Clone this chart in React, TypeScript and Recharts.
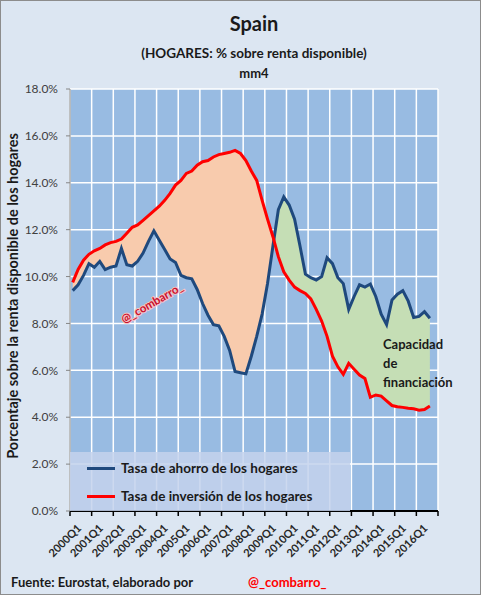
import React from 'react';
import { ComposedChart, Area, Line, XAxis, YAxis, CartesianGrid, Legend } from 'recharts';

// one label every 4 quarters (2000Q1 .. 2016Q1)
const yearLabels = [
  '2000Q1', '2001Q1', '2002Q1', '2003Q1', '2004Q1', '2005Q1', '2006Q1', '2007Q1', '2008Q1',
  '2009Q1', '2010Q1', '2011Q1', '2012Q1', '2013Q1', '2014Q1', '2015Q1', '2016Q1',
];

// Tasa de ahorro de los hogares (% renta disponible, mm4), 2000Q1 .. 2016Q3
const ahorro = [
  9.4, 9.65, 10.05, 10.55, 10.4, 10.65, 10.3, 10.4, 10.45, 11.2, 10.5, 10.45,
  10.65, 11.0, 11.5, 11.95, 11.55, 11.15, 10.75, 10.6, 10.05, 9.95, 9.9, 9.45,
  8.85, 8.35, 7.95, 7.9, 7.45, 6.85, 5.95, 5.9, 5.85, 6.6, 7.45, 8.4,
  9.7, 11.3, 12.85, 13.4, 13.05, 12.45, 11.3, 10.1, 9.95, 9.85, 10.0, 10.8,
  10.55, 9.95, 9.7, 8.6, 9.15, 9.65, 9.55, 9.68, 9.15, 8.4, 7.95, 9.0,
  9.25, 9.4, 8.95, 8.25, 8.3, 8.5, 8.22,
];

// Tasa de inversión de los hogares
const inversion = [
  9.75, 10.3, 10.7, 10.95, 11.1, 11.2, 11.35, 11.45, 11.5, 11.6, 11.85, 12.1,
  12.2, 12.4, 12.6, 12.8, 13.0, 13.25, 13.55, 13.9, 14.1, 14.4, 14.5, 14.75,
  14.9, 14.95, 15.1, 15.2, 15.25, 15.3, 15.38, 15.25, 14.95, 14.5, 14.1, 13.25,
  12.45, 11.7, 10.85, 10.2, 9.85, 9.55, 9.4, 9.28, 9.05, 8.6, 8.1, 7.45,
  6.6, 6.15, 5.83, 6.3, 6.05, 5.8, 5.65, 4.85, 4.95, 4.9, 4.7, 4.5,
  4.45, 4.42, 4.38, 4.36, 4.3, 4.33, 4.48,
];

const yTicks = [0, 2, 4, 6, 8, 10, 12, 14, 16, 18];
const xTicks = yearLabels.map((_, i) => i * 4).concat([68]);

const data = ahorro.map((s, i) => {
  const inv = inversion[i];
  return {
    x: i + 0.5,
    ahorro: s,
    inversion: inv,
    base: Math.min(s, inv),
    necesidad: Math.max(0, inv - s),
    capacidad: Math.max(0, s - inv),
  };
});

const FONT = 'Lato, "Open Sans", sans-serif';

const XTick = (props: any) => {
  const { x, y, payload } = props;
  const label = yearLabels[payload.value / 4];
  if (!label) return null;
  const ax = x + 12;
  const ay = y + 11;
  return (
    <text x={ax} y={ay} transform={`rotate(-45, ${ax}, ${ay})`} textAnchor="end"
      fontSize={11} fontWeight={700} fill="#262626" fontFamily={FONT}>
      {label}
    </text>
  );
};

const LegendBox = (props: any) => {
  const items = (props.payload || []).filter((p: any) => p.type !== 'none');
  return (
    <div style={{ width: 280, height: 59, background: 'rgba(196,210,236,0.85)', boxSizing: 'border-box', paddingTop: 2 }}>
      {items.map((p: any) => (
        <div key={p.value} style={{ display: 'flex', alignItems: 'center', height: 28 }}>
          <span style={{ display: 'inline-block', width: 28, height: 3, background: p.color, marginLeft: 17, marginRight: 6 }} />
          <span style={{ fontFamily: FONT, fontWeight: 700, fontSize: 13.5, color: '#1a1a1a' }}>{p.value}</span>
        </div>
      ))}
    </div>
  );
};

export default function App() {
  return (
    <div style={{ position: 'absolute', left: 0, top: 0, width: 481, height: 595, background: '#DCE6F2', border: '1px solid #8c8c8c', boxSizing: 'border-box', overflow: 'hidden' }}>
      <div style={{ position: 'absolute', left: -1, top: -1 }}>
        <ComposedChart width={481} height={595} data={data} margin={{ top: 89, right: 43, bottom: 24, left: 10 }}>
          <CartesianGrid stroke="#ffffff" strokeWidth={1.5} fill="#98BBE2" fillOpacity={1} />
          <XAxis type="number" dataKey="x" domain={[0, 68]} ticks={xTicks} interval={0} height={60}
            axisLine={{ stroke: '#000', strokeWidth: 2 }} tickLine={{ stroke: '#000', strokeWidth: 1.5 }} tickSize={5}
            tick={<XTick />} />
          <YAxis type="number" domain={[0, 18]} ticks={yTicks} width={60} tickSize={4} tickMargin={8}
            axisLine={{ stroke: '#868686' }} tickLine={{ stroke: '#868686' }}
            tickFormatter={(v: number) => v.toFixed(1) + '%'}
            tick={{ fontSize: 12, fill: '#404040', fontFamily: FONT }} />
          <Legend layout="horizontal" verticalAlign="middle" align="center" content={<LegendBox />}
            wrapperStyle={{ position: 'absolute', left: 70, top: 452, width: 280, height: 59 }} />
          <Area type="linear" dataKey="base" stackId="s" stroke="none" fill="none" legendType="none" isAnimationActive={false} />
          <Area type="linear" dataKey="necesidad" stackId="s" stroke="none" fill="#F8CBAD" fillOpacity={1} legendType="none" isAnimationActive={false} />
          <Area type="linear" dataKey="capacidad" stackId="s" stroke="none" fill="#C5DEB5" fillOpacity={1} legendType="none" isAnimationActive={false} />
          <Line type="linear" dataKey="ahorro" name="Tasa de ahorro de los hogares" stroke="#1F497D" strokeWidth={3} dot={false} isAnimationActive={false} />
          <Line type="linear" dataKey="inversion" name="Tasa de inversión de los hogares" stroke="#FF0000" strokeWidth={3} dot={false} isAnimationActive={false} />
        </ComposedChart>
      </div>
      <svg width={481} height={595} style={{ position: 'absolute', left: -1, top: -1, pointerEvents: 'none' }} fontFamily={FONT}>
        <text x={254} y={31} textAnchor="middle" fontSize={20} fontWeight={700} fill="#1a1a1a">Spain</text>
        <text x={254} y={58} textAnchor="middle" fontSize={13.5} fontWeight={700} fill="#1a1a1a">(HOGARES: % sobre renta disponible)</text>
        <text x={254} y={78} textAnchor="middle" fontSize={13} fontWeight={700} fill="#1a1a1a">mm4</text>
        <text x={18} y={296} transform="rotate(-90, 18, 296)" textAnchor="middle" fontSize={14.5} fontWeight={700} fill="#1a1a1a">
          Porcentaje sobre la renta disponible de los hogares
        </text>
        <g transform="translate(152, 303) rotate(-30)">
          <text x={0} y={4} textAnchor="middle" fontSize={11.5} fontWeight={700}
            fill="#C8102E" stroke="#f6c4c4" strokeWidth={2} paintOrder="stroke">@_combarro_</text>
        </g>
        <text x={383} y={349} fontSize={13} fontWeight={700} fill="#1a1a1a">Capacidad</text>
        <text x={383} y={368} fontSize={13} fontWeight={700} fill="#1a1a1a">de</text>
        <text x={383} y={387} fontSize={13} fontWeight={700} fill="#1a1a1a">financiación</text>
        <text x={11} y={587} fontSize={13} fontWeight={700} fill="#1a1a1a">Fuente: Eurostat, elaborado por</text>
        <text x={248} y={587} fontSize={13} fontWeight={700} fill="#FF0000">@_combarro_</text>
      </svg>
    </div>
  );
}
